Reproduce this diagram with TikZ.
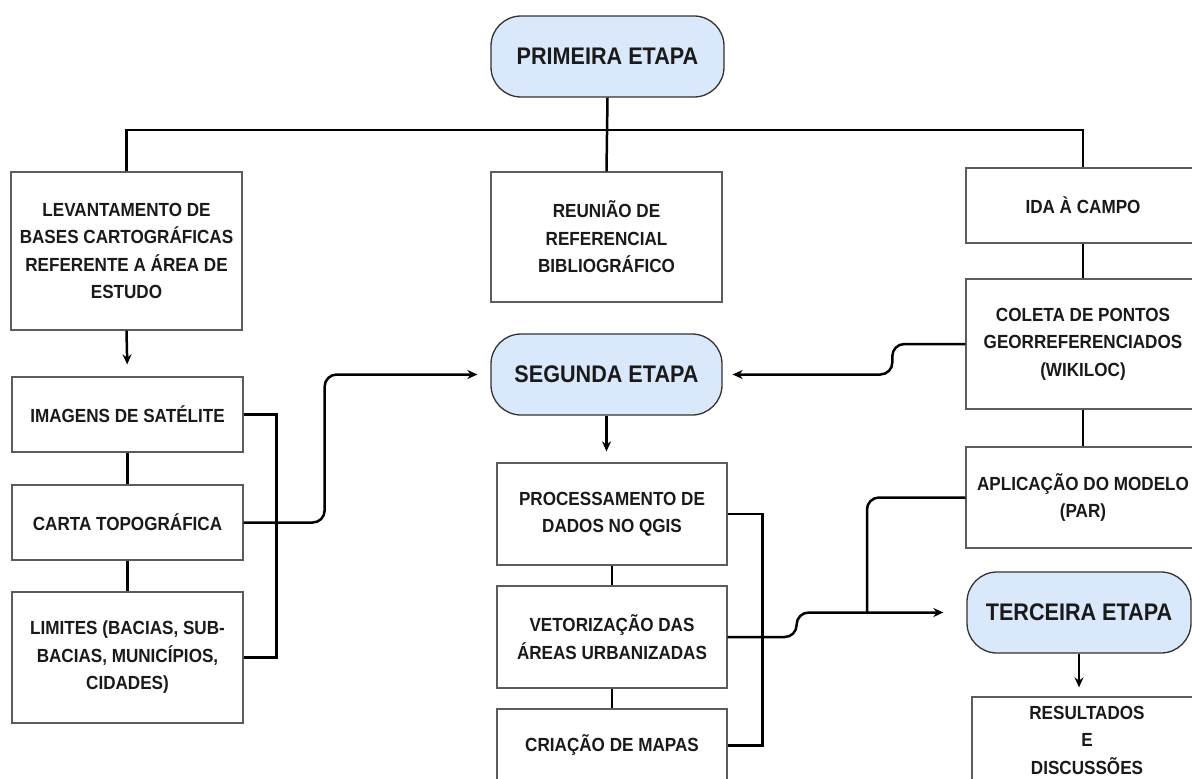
\documentclass[tikz,border=0pt]{standalone}
\usepackage{fontspec}
\setmainfont{Liberation Sans}
\newfontfamily\condsans[FakeStretch=0.9]{Liberation Sans}
\usetikzlibrary{arrows.meta}
\definecolor{pillblue}{HTML}{DAE8FC}
\definecolor{boxline}{HTML}{5C5C5C}
\definecolor{txt}{HTML}{1A1A1A}
\begin{document}
\begin{tikzpicture}[x=1pt,y=-1pt,
 box/.style={draw=boxline, line width=1.3pt, fill=white, align=center, inner sep=0pt,
   font=\condsans\bfseries\fontsize{19}{27.5}\selectfont, text=txt},
 pill/.style={draw=black!80, line width=1.3pt, fill=pillblue, rounded corners=30pt, inner sep=0pt,
   font=\condsans\bfseries\fontsize{24}{28}\selectfont, text=txt},
 conn/.style={line width=2.5pt, black},
 arr/.style={conn, -{Stealth[length=10pt,width=9pt]}}
]
\useasboundingbox (0,0) rectangle (1192,779);
\fill[white] (0,0) rectangle (1192,779);

% pills
\node[pill, minimum width=233pt, minimum height=81pt] (prim) at (607.5,56.5) {PRIMEIRA ETAPA};
\node[pill, minimum width=231pt, minimum height=81pt] (seg) at (606.5,374.5) {SEGUNDA ETAPA};
\node[pill, minimum width=224pt, minimum height=81pt] (ter) at (1079,612.5) {TERCEIRA ETAPA};

% first row
\node[box, minimum width=231pt, minimum height=158pt] (lev) at (126.5,251) {LEVANTAMENTO DE\\BASES CARTOGRÁFICAS\\REFERENTE A ÁREA DE\\ESTUDO};
\node[box, minimum width=231pt, minimum height=130pt] (reu) at (606.5,237) {REUNIÃO DE\\REFERENCIAL\\BIBLIOGRÁFICO};
\node[box, minimum width=234pt, minimum height=75pt] (ida) at (1083,205.5) {IDA À CAMPO};
\node[box, minimum width=234pt, minimum height=130pt] (col) at (1083,344) {COLETA DE PONTOS\\GEORREFERENCIADOS\\(WIKILOC)};
\node[box, minimum width=234pt, minimum height=101pt] (apl) at (1083,497.5) {APLICAÇÃO DO MODELO\\(PAR)};

% left column
\node[box, minimum width=231pt, minimum height=75pt] (img) at (127.5,414.5) {IMAGENS DE SATÉLITE};
\node[box, minimum width=231pt, minimum height=75pt] (car) at (127.5,522.5) {CARTA TOPOGRÁFICA};
\node[box, minimum width=231pt, minimum height=131pt] (lim) at (127.5,657.5) {LIMITES (BACIAS, SUB-\\BACIAS, MUNICÍPIOS,\\CIDADES)};

% middle column
\node[box, minimum width=230pt, minimum height=102pt] (pro) at (612,514) {PROCESSAMENTO DE\\DADOS NO QGIS};
\node[box, minimum width=230pt, minimum height=102pt] (vet) at (612,637) {VETORIZAÇÃO DAS\\ÁREAS URBANIZADAS};
\node[box, minimum width=230pt, minimum height=73pt] (cri) at (612,745.5) {CRIAÇÃO DE MAPAS};

% results
\node[box, minimum width=230pt, minimum height=86pt] (res) at (1087,740) {RESULTADOS\\E\\DISCUSSÕES};

\coordinate (bar) at (0,130);
\coordinate (join) at (867,0);

% top tree
\draw[conn] (prim.south) -- (reu.north);
\draw[conn] (lev.north) |- (ida.north |- bar) -- (ida.north);

% left column
\draw[arr, shorten >=12pt] (lev.south) -- (img.north);
\draw[conn] (img.south) -- (car.north);
\draw[conn] (car.south) -- (lim.north);
\draw[conn] (img.east) -- ++(33,0) |- (lim.east);
\draw[arr, rounded corners=12pt, shorten >=13pt] (car.east) -- ++(81,0) |- (seg.west);

% middle column
\draw[arr, shorten >=11pt] (seg.south) -- (seg.south |- pro.north);
\draw[conn] (pro.south) -- (vet.north);
\draw[conn] (vet.south) -- (cri.north);
\draw[conn] (pro.east) -- ++(35,0) |- (cri.east);
\draw[arr, rounded corners=12pt, shorten >=23pt] (vet.east) -- ++(69,0) |- (ter.west);

% right column
\draw[conn] (ida.south) -- (col.north);
\draw[conn] (col.south) -- (apl.north);
\draw[arr, rounded corners=12pt, shorten >=10pt] (col.west) -- ++(-73,0) |- (seg.east);
\draw[conn, rounded corners=12pt] (apl.west) -| (join |- ter.west);
\draw[arr, shorten >=9pt] (ter.south) -- (ter.south |- res.north);
\end{tikzpicture}
\end{document}
